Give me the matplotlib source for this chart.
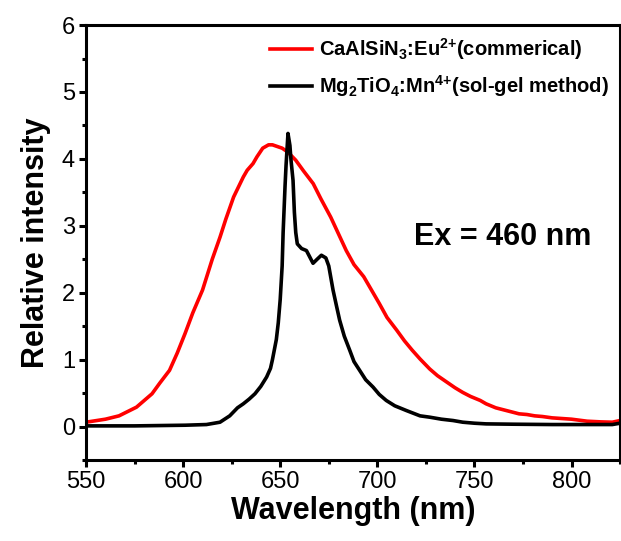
import numpy as np
import matplotlib
matplotlib.use("Agg")
import matplotlib.pyplot as plt
from matplotlib.ticker import MultipleLocator

plt.rcParams['font.family'] = ['Liberation Sans', 'DejaVu Sans']
plt.rcParams['mathtext.fontset'] = 'custom'
plt.rcParams['mathtext.rm'] = 'Liberation Sans:bold'
plt.rcParams['mathtext.bf'] = 'Liberation Sans:bold'
plt.rcParams['mathtext.default'] = 'bf'

# ---- data ----
red_wl = [550, 560, 567, 576, 584, 588, 593, 597, 601, 605, 610, 615, 619, 622,
          626, 631, 633, 636, 638, 641, 644, 646, 648, 651, 654, 658, 662, 667,
          671, 676, 680, 684, 688, 693, 697, 701, 705, 710, 714, 718, 722, 727,
          731, 736, 740, 744, 748, 753, 756, 761, 765, 769, 773, 777, 781, 785,
          790, 795, 800, 808, 815, 821, 825]
red_int = [0.065, 0.11, 0.16, 0.29, 0.49, 0.65, 0.84, 1.1, 1.39, 1.7, 2.04, 2.5,
           2.83, 3.1, 3.43, 3.73, 3.83, 3.93, 4.03, 4.16, 4.21, 4.21, 4.19, 4.16,
           4.1, 3.98, 3.82, 3.63, 3.4, 3.13, 2.88, 2.63, 2.42, 2.24, 2.04, 1.84,
           1.63, 1.44, 1.28, 1.14, 1.01, 0.86, 0.76, 0.66, 0.58, 0.51, 0.45, 0.39,
           0.34, 0.28, 0.25, 0.22, 0.19, 0.18, 0.16, 0.15, 0.13, 0.12, 0.11, 0.08,
           0.07, 0.065, 0.09]

blk_wl = [550, 575, 601, 612, 619, 624, 628, 631, 634, 637, 640, 643, 645, 646,
          648, 649, 650, 651, 651.5, 652.5, 653, 654, 655, 655.5, 656.6, 657.3,
          658, 658.8, 661, 663.5, 666.9, 669, 671.2, 673.5, 675, 677.2, 679, 680.6,
          683, 685.8, 688, 690.9, 694, 697.8, 701, 704.6, 709, 714.9, 722, 727,
          733, 739, 744, 750, 756, 770, 790, 821, 825]
blk_int = [0.01, 0.01, 0.02, 0.03, 0.065, 0.16, 0.28, 0.34, 0.41, 0.49, 0.6, 0.74,
           0.87, 1.0, 1.3, 1.55, 1.9, 2.4, 2.9, 3.6, 3.9, 4.38, 4.2, 4.0, 3.68,
           3.2, 2.9, 2.73, 2.66, 2.63, 2.44, 2.5, 2.56, 2.52, 2.40, 2.04, 1.8,
           1.59, 1.35, 1.14, 0.97, 0.84, 0.7, 0.59, 0.48, 0.39, 0.31, 0.24, 0.16,
           0.14, 0.11, 0.09, 0.065, 0.05, 0.04, 0.035, 0.03, 0.03, 0.05]

red_label = r'CaAlSiN$_3$:Eu$^{2{+}}$(commerical)'
blk_label = r'Mg$_2$TiO$_4$:Mn$^{4{+}}$(sol-gel method)'

fig = plt.figure(figsize=(6.21, 5.41), dpi=100)
ax = fig.add_axes([0.1385, 0.1497, 0.86, 0.804])

ax.plot(red_wl, red_int, color='red', lw=2.6, label=red_label,
        solid_joinstyle='round')
ax.plot(blk_wl, blk_int, color='black', lw=2.6, label=blk_label,
        solid_joinstyle='round')

ax.set_xlim(550, 825)
ax.set_ylim(-0.5, 6)
ax.xaxis.set_major_locator(MultipleLocator(50))
ax.xaxis.set_minor_locator(MultipleLocator(25))
ax.yaxis.set_major_locator(MultipleLocator(1))
ax.yaxis.set_minor_locator(MultipleLocator(0.5))

for s in ax.spines.values():
    s.set_linewidth(2.2)
ax.tick_params(which='major', direction='out', length=5, width=2.2, labelsize=17, pad=3)
ax.tick_params(which='minor', direction='out', length=3, width=2.2)
ax.tick_params(which='both', top=False, right=False)

ax.set_xlabel('Wavelength (nm)', fontsize=22, fontweight='bold', labelpad=2)
ax.set_ylabel('Relative intensity', fontsize=22, fontweight='bold', labelpad=8)

ax.text(0.78, 0.513, 'Ex = 460 nm', transform=ax.transAxes, fontsize=22,
        fontweight='bold', ha='center', va='center')

leg = ax.legend(loc='upper right', bbox_to_anchor=(1.0, 1.0), frameon=False,
                prop={'size': 14.5, 'weight': 'bold'}, handlelength=2.1,
                handletextpad=0.35, labelspacing=0.55, borderaxespad=0.15)

plt.savefig('out.png', dpi=100)
